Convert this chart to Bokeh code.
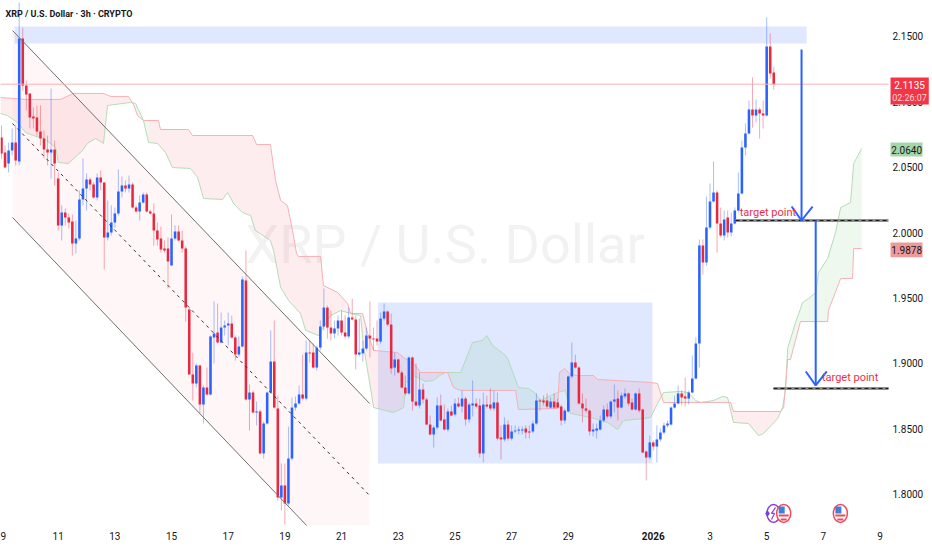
import numpy as np
from bokeh.plotting import figure
from bokeh.models import Range1d, FixedTicker, NumeralTickFormatter, Label, LinearAxis
from bokeh.core.properties import value
from bokeh.embed import file_html
from bokeh.resources import INLINE

TITLE = "XRP / U.S. Dollar · 3h · CRYPTO"
WATERMARK = "XRP / U.S. Dollar"
TARGET_TEXT = "target point"
FONT = "Roboto"

# candles, 3h each, first one opens on the 9th
opens = [2.0727,2.0612,2.0528,2.0628,2.0689,2.0543,2.1484,2.1125,2.1064,2.0888,
2.0880,2.0773,2.0719,2.0635,2.0612,2.0635,2.0413,2.0054,2.0153,2.0115,
2.0084,1.9916,1.9954,2.0253,2.0337,2.0406,2.0367,2.0268,2.0421,2.0383,
1.9962,2.0000,2.0077,2.0146,2.0314,2.0360,2.0337,2.0367,2.0191,2.0161,
2.0230,2.0291,2.0161,2.0146,2.0015,1.9954,1.9878,1.9878,1.9748,1.9954,
2.0008,1.9939,1.9878,1.9411,1.8914,1.8845,1.8983,1.8684,1.8814,1.8761,
1.9197,1.9235,1.9159,1.9273,1.9289,1.9304,1.9197,1.9067,1.9128,1.9633,
1.8723,1.8776,1.8623,1.8631,1.8310,1.8539,1.8776,1.9013,1.8654,1.7973,
1.8065,1.7927,1.8271,1.8661,1.8692,1.8761,1.8730,1.9082,1.9082,1.8967,
1.9120,1.9281,1.9426,1.9273,1.9228,1.9266,1.9327,1.9235,1.9205,1.9350,
1.9335,1.9067,1.9075,1.9113,1.9212,1.9189,1.9189,1.9166,1.9342,1.9396,
1.9296,1.8967,1.9029,1.8929,1.8814,1.8769,1.9044,1.8707,1.8677,1.8799,
1.8723,1.8531,1.8455,1.8508,1.8677,1.8570,1.8493,1.8631,1.8608,1.8692,
1.8669,1.8730,1.8570,1.8677,1.8692,1.8677,1.8310,1.8684,1.8684,1.8654,
1.8700,1.8432,1.8417,1.8531,1.8424,1.8478,1.8485,1.8485,1.8501,1.8478,
1.8478,1.8539,1.8715,1.8715,1.8715,1.8661,1.8707,1.8700,1.8669,1.8562,
1.8631,1.8899,1.9006,1.8967,1.8692,1.8654,1.8638,1.8478,1.8485,1.8493,
1.8562,1.8646,1.8593,1.8707,1.8730,1.8661,1.8746,1.8769,1.8700,1.8646,
1.8769,1.8646,1.8325,1.8279,1.8394,1.8363,1.8417,1.8470,1.8524,1.8531,
1.8661,1.8692,1.8769,1.8746,1.8730,1.8776,1.8883,1.9151,1.9901,1.9771,
2.0038,2.0237,2.0306,2.0069,1.9977,2.0115,2.0000,2.0069,2.0169,2.0299,
2.0650,2.0758,2.0941,2.0895,2.0941,2.0911,2.0895,2.1423,2.1224]
closes = [2.0605,2.0497,2.0628,2.0689,2.0551,2.1484,2.1125,2.1056,2.0880,2.0872,
2.0773,2.0719,2.0635,2.0612,2.0635,2.0528,2.0054,2.0153,2.0115,2.0077,
1.9916,1.9954,2.0253,2.0337,2.0406,2.0367,2.0268,2.0421,2.0383,1.9962,
2.0000,2.0077,2.0146,2.0314,2.0360,2.0337,2.0367,2.0191,2.0161,2.0230,
2.0291,2.0161,2.0146,2.0015,1.9947,1.9870,1.9863,1.9778,1.9954,2.0008,
1.9939,1.9878,1.9426,1.8914,1.8845,1.8983,1.8684,1.8814,1.8761,1.9205,
1.9228,1.9159,1.9273,1.9289,1.9304,1.9197,1.9067,1.9128,1.9641,1.8723,
1.8776,1.8623,1.8631,1.8310,1.8539,1.8776,1.9013,1.8661,1.7973,1.8065,
1.7927,1.8271,1.8661,1.8692,1.8761,1.8730,1.9082,1.9075,1.8967,1.9120,
1.9281,1.9426,1.9273,1.9228,1.9266,1.9327,1.9235,1.9205,1.9350,1.9335,
1.9067,1.9082,1.9113,1.9212,1.9189,1.9182,1.9166,1.9342,1.9396,1.9296,
1.8960,1.9029,1.8929,1.8814,1.8769,1.9044,1.8707,1.8677,1.8799,1.8723,
1.8531,1.8455,1.8508,1.8677,1.8562,1.8493,1.8631,1.8600,1.8692,1.8669,
1.8730,1.8570,1.8684,1.8692,1.8669,1.8310,1.8684,1.8669,1.8654,1.8700,
1.8424,1.8417,1.8531,1.8424,1.8478,1.8485,1.8493,1.8493,1.8470,1.8470,
1.8539,1.8715,1.8707,1.8700,1.8669,1.8707,1.8661,1.8661,1.8562,1.8638,
1.8899,1.9006,1.8967,1.8692,1.8654,1.8638,1.8478,1.8493,1.8501,1.8562,
1.8646,1.8593,1.8707,1.8723,1.8661,1.8753,1.8769,1.8692,1.8646,1.8769,
1.8638,1.8317,1.8279,1.8394,1.8363,1.8417,1.8470,1.8524,1.8539,1.8661,
1.8692,1.8769,1.8738,1.8730,1.8776,1.8883,1.9151,1.9901,1.9771,2.0038,
2.0237,2.0306,2.0069,1.9977,2.0100,2.0000,2.0069,2.0169,2.0299,2.0650,
2.0758,2.0941,2.0895,2.0941,2.0911,2.0895,2.1423,2.1217,2.1135]
highs = [2.0819,2.0666,2.0689,2.0796,2.0819,2.1760,2.1568,2.1163,2.1064,2.0956,
2.0972,2.0972,2.0781,2.0742,2.1102,2.0704,2.0459,2.0207,2.0184,2.0146,
2.0138,2.0092,2.0322,2.0566,2.0452,2.0421,2.0383,2.0452,2.0475,2.0383,
2.0245,2.0207,2.0191,2.0482,2.0429,2.0398,2.0436,2.0383,2.0207,2.0283,
2.0306,2.0306,2.0176,2.0222,2.0077,2.0046,1.9939,1.9962,2.0138,2.0054,
2.0054,2.0015,1.9893,1.9426,1.9082,1.8998,1.8990,1.8830,1.8967,1.9212,
1.9472,1.9457,1.9388,1.9327,1.9388,1.9365,1.9212,1.9205,1.9664,1.9863,
1.8837,1.8792,1.8707,1.8646,1.8554,1.8784,1.9251,1.9327,1.8753,1.8233,
1.8233,1.8516,1.8738,1.8746,1.8830,1.9067,1.9174,1.9174,1.9151,1.9136,
1.9327,1.9572,1.9442,1.9404,1.9327,1.9365,1.9404,1.9365,1.9426,1.9495,
1.9365,1.9342,1.9174,1.9273,1.9472,1.9273,1.9327,1.9388,1.9457,1.9404,
1.9381,1.9082,1.9036,1.8944,1.8906,1.9052,1.9052,1.8998,1.8929,1.8845,
1.8738,1.8600,1.8524,1.8738,1.8761,1.8684,1.8654,1.8677,1.8730,1.8738,
1.8792,1.8746,1.8700,1.8868,1.8730,1.8730,1.8776,1.8753,1.8807,1.8792,
1.8776,1.8524,1.8585,1.8562,1.8524,1.8524,1.8516,1.8516,1.8524,1.8524,
1.8562,1.8769,1.8730,1.8753,1.8769,1.8738,1.8769,1.8730,1.8684,1.8654,
1.8906,1.9159,1.9067,1.8975,1.8769,1.8730,1.8646,1.8539,1.8539,1.8600,
1.8677,1.8692,1.8715,1.8837,1.8792,1.8776,1.8807,1.8776,1.8730,1.8776,
1.8807,1.8654,1.8333,1.8447,1.8409,1.8524,1.8501,1.8547,1.8562,1.8669,
1.8753,1.8830,1.8792,1.8891,1.8792,1.9059,1.9197,1.9947,1.9947,2.0276,
2.0375,2.0543,2.0322,2.0191,2.0169,2.0169,2.0153,2.0191,2.0459,2.0704,
2.0834,2.1010,2.1186,2.1018,2.0956,2.1010,2.1645,2.1523,2.1270]
lows = [2.0566,2.0497,2.0459,2.0589,2.0513,2.0513,2.1087,2.0934,2.0796,2.0796,
2.0742,2.0666,2.0566,2.0513,2.0413,2.0360,2.0015,1.9939,2.0054,2.0031,
1.9824,1.9840,1.9939,2.0207,2.0169,2.0322,2.0260,2.0245,2.0322,1.9717,
1.9939,1.9977,2.0038,2.0130,2.0268,2.0306,2.0306,2.0184,2.0153,2.0092,
2.0222,2.0153,2.0138,1.9901,1.9901,1.9847,1.9847,1.9572,1.9748,1.9939,
1.9931,1.9847,1.9319,1.8914,1.8715,1.8814,1.8615,1.8539,1.8753,1.8753,
1.8998,1.9151,1.9151,1.9212,1.9136,1.9189,1.9021,1.9052,1.9120,1.8715,
1.8485,1.8615,1.8524,1.8302,1.8271,1.8531,1.8769,1.8654,1.7950,1.7873,
1.7766,1.7912,1.8256,1.8638,1.8684,1.8715,1.8715,1.9006,1.8960,1.8944,
1.9098,1.9251,1.9189,1.9174,1.9189,1.9212,1.9212,1.9189,1.9189,1.9327,
1.8952,1.9052,1.9013,1.9098,1.9044,1.9098,1.9136,1.9151,1.9327,1.9281,
1.8921,1.8906,1.8921,1.8807,1.8753,1.8761,1.8638,1.8669,1.8654,1.8692,
1.8524,1.8447,1.8355,1.8493,1.8554,1.8485,1.8478,1.8593,1.8593,1.8661,
1.8623,1.8524,1.8547,1.8593,1.8654,1.8279,1.8241,1.8654,1.8638,1.8638,
1.8409,1.8264,1.8401,1.8409,1.8409,1.8463,1.8455,1.8455,1.8424,1.8424,
1.8463,1.8531,1.8638,1.8677,1.8654,1.8654,1.8654,1.8654,1.8524,1.8539,
1.8623,1.8883,1.8960,1.8684,1.8547,1.8623,1.8447,1.8440,1.8424,1.8485,
1.8547,1.8577,1.8577,1.8623,1.8562,1.8654,1.8730,1.8677,1.8638,1.8638,
1.8623,1.8310,1.8103,1.8264,1.8333,1.8241,1.8401,1.8455,1.8508,1.8524,
1.8654,1.8684,1.8677,1.8669,1.8684,1.8769,1.8876,1.8967,1.9679,1.9748,
2.0023,2.0230,1.9847,1.9962,1.9939,1.9962,1.9970,2.0061,2.0153,2.0291,
2.0589,2.0750,2.0803,2.0842,2.0719,2.0796,2.0888,2.1178,2.1094]

# ichimoku cloud edges (day offset from the 9th, price)
span_a_days = [-0.04,0.21,0.56,0.85,1.13,1.48,1.73,1.91,2.01,2.36,2.86,3.03,3.32,3.60,3.74,4.55,4.73,5.01,5.19,5.51,5.79,6.03,6.67,6.92,7.13,7.80,7.98,8.19,8.50,8.79,8.96,9.49,9.60,9.85,10.13,10.55,10.73,11.19,11.61,11.96,12.32,12.67,12.77,13.02,13.13,13.83,14.19,14.26,14.54,14.96,15.25,15.46,15.67,16.20,16.62,16.97,17.12,17.33,17.79,17.89,18.24,18.60,18.84,19.02,19.62,19.90,20.08,20.79,21.39,21.74,21.95,22.66,22.90,23.15,23.36,23.96,24.24,24.49,24.67,25.13,25.44,25.62,25.83,26.36,26.71,26.89,27.39,27.56,27.67,27.74,28.02,28.27,28.48,28.73,28.83,29.15,29.43,29.61,29.96,30.07,30.35]
span_a = [2.0911,2.0895,2.0842,2.0765,2.0742,2.0719,2.0681,2.0650,2.0536,2.0528,2.0628,2.0681,2.0719,2.0681,2.0972,2.0995,2.0987,2.0857,2.0689,2.0681,2.0612,2.0497,2.0490,2.0421,2.0260,2.0253,2.0306,2.0222,2.0153,2.0130,2.0015,1.9939,1.9863,1.9579,1.9480,1.9381,1.9251,1.9212,1.9365,1.9403,1.9381,1.9365,1.9136,1.8814,1.8661,1.8623,1.8661,1.8845,1.8906,1.8860,1.8868,1.8906,1.8929,1.8929,1.9159,1.9174,1.9212,1.9136,1.9059,1.9021,1.8814,1.8807,1.8768,1.8715,1.8776,1.8792,1.8616,1.8585,1.8547,1.8493,1.8562,1.8577,1.8585,1.8692,1.8776,1.8784,1.8776,1.8715,1.8700,1.8715,1.8746,1.8738,1.8547,1.8539,1.8447,1.8463,1.8577,1.8661,1.8807,1.9113,1.9312,1.9465,1.9495,1.9541,1.9694,1.9801,2.0000,2.0191,2.0230,2.0528,2.0643]
span_b_days = [-0.04,0.85,2.08,2.54,3.60,3.85,4.48,4.66,4.80,5.01,5.54,5.61,6.60,6.74,8.86,9.00,9.49,9.67,9.85,10.09,10.27,10.41,10.48,11.26,11.36,11.86,12.21,12.32,12.74,12.92,13.13,13.97,14.19,14.61,14.79,15.74,15.95,16.20,18.14,18.24,19.62,19.69,19.87,20.08,20.33,20.89,21.03,22.90,23.15,23.36,25.73,25.83,27.49,27.60,27.74,27.84,28.19,29.15,29.18,29.61,30.03,30.07,30.35]
span_b = [2.1033,2.1018,2.1018,2.1064,2.1064,2.1041,2.1041,2.0979,2.0895,2.0857,2.0857,2.0788,2.0788,2.0742,2.0742,2.0673,2.0673,2.0398,2.0245,2.0207,2.0015,1.9840,1.9817,1.9817,1.9595,1.9541,1.9457,1.9381,1.9381,1.9228,1.9098,1.9082,1.9044,1.8983,1.8929,1.8929,1.8814,1.8792,1.8792,1.8646,1.8654,1.8929,1.8960,1.8914,1.8906,1.8906,1.8876,1.8853,1.8845,1.8700,1.8700,1.8631,1.8631,1.8661,1.9029,1.9029,1.9319,1.9319,1.9404,1.9648,1.9648,1.9878,1.9878]

# drawn channel (day, price at both ends)
channel_days = [0.39, 12.99]
channel_upper = [2.1545, 1.8692]
channel_middle = [2.0834, 1.7988]
channel_lower = [2.0115, 1.7254]
# drawn zones
resistance_days = [0.46, 28.41]
resistance_prices = [2.1446, 2.1576]
range_days = [13.28, 22.97]
range_prices = [1.8233, 1.9465]
last_price = 2.1135
# targets
target1 = dict(days=[25.90, 31.35], price=2.0092)
target2 = dict(days=[27.24, 31.35], price=1.8807)
arrow1 = dict(day=28.23, top=2.1400, tip=2.0092, wing_days=[27.88, 28.62], wing=2.0199)
arrow2 = dict(day=28.73, top=2.0092, tip=1.8830, wing_days=[28.38, 29.12], wing=1.8937)
tick_days = [0,2,4,6,8,10,12,14,16,18,20,23,25,27,29,31]
tick_text = ["9","11","13","15","17","19","21","23","25","27","29","","3","5","7","9"]
price_ticks = [1.80,1.85,1.90,1.95,2.00,2.05,2.10,2.15]
event_days = [27.24, 27.60, 29.60]
event_level = 1.7851

PXD = 28.34
PXP = 1307.2
p = figure(width=932, height=550, output_backend="svg", toolbar_location=None,
           x_range=Range1d(-1/PXD, 887/PXD), y_range=Range1d(2.1775-525/PXP, 2.1775),
           min_border_left=0, min_border_top=0, min_border_right=44, min_border_bottom=25,
           outline_line_color=None, background_fill_color="white", border_fill_color="white")
p.grid.visible = False
p.xaxis.ticker = FixedTicker(ticks=tick_days)
p.xaxis.major_label_overrides = {d: t for d, t in zip(tick_days, tick_text)}
p.yaxis.visible = False
ya = LinearAxis(ticker=FixedTicker(ticks=price_ticks), formatter=NumeralTickFormatter(format="0.0000"))
p.add_layout(ya, "right")
for ax in (p.xaxis[0], ya):
    ax.axis_line_color = None
    ax.major_tick_line_color = None
    ax.minor_tick_line_color = None
    ax.major_tick_out = 0
    ax.major_tick_in = 0
    ax.minor_tick_out = 0
    ax.minor_tick_in = 0
    ax.major_label_text_font = FONT
    ax.major_label_text_font_size = "10px"
    ax.major_label_text_color = "#131722"
ya.major_label_standoff = 4
p.xaxis[0].major_label_standoff = 6

# watermark
p.text(x=[15.65], y=[1.9905], text=[WATERMARK], text_font=value(FONT),
       text_font_size="54px", text_color="#131722", text_alpha=0.055,
       text_align="center", text_baseline="middle", level="underlay")

# zones
cd = np.array(channel_days)
p.varea(x=cd, y1=channel_upper, y2=channel_lower, fill_color="#f23645", fill_alpha=0.045)
p.quad(left=[resistance_days[0]], right=[resistance_days[1]], bottom=[resistance_prices[0]], top=[resistance_prices[1]],
       fill_color="#2962ff", fill_alpha=0.15, line_color=None)
p.quad(left=[range_days[0]], right=[range_days[1]], bottom=[range_prices[0]], top=[range_prices[1]],
       fill_color="#2962ff", fill_alpha=0.15, line_color=None)

# cloud
xs = np.union1d(span_a_days, span_b_days)
a = np.interp(xs, span_a_days, span_a)
b = np.interp(xs, span_b_days, span_b)
up = a >= b
start = 0
for i in range(1, len(xs) + 1):
    if i == len(xs) or up[i] != up[start]:
        end = min(i + 1, len(xs))
        p.varea(x=xs[start:end], y1=a[start:end], y2=b[start:end],
                fill_color="#4caf50" if up[start] else "#f23645", fill_alpha=0.09)
        start = i
p.line(span_a_days, span_a, line_color="#b4dcb6", line_width=1)
p.line(span_b_days, span_b, line_color="#f7b0b5", line_width=1)

# candles
n = len(opens)
days = np.arange(n) / 8
o, c, h, l = map(np.array, (opens, closes, highs, lows))
colors = np.where(c >= o, "#2962ff", "#e8283f")
p.segment(days, h, days, l, line_color=list(colors), line_alpha=0.4, line_width=1)
p.vbar(x=days, width=0.09, top=np.maximum(o, c), bottom=np.minimum(o, c),
       fill_color=list(colors), line_color=None)

# channel lines
p.line(cd, channel_upper, line_color="#6f6f6f", line_width=1)
p.line(cd, channel_lower, line_color="#6f6f6f", line_width=1)
p.line(cd, channel_middle, line_color="#333333", line_width=1, line_dash="3 4")

# last price line
p.line([-1, 40], [last_price, last_price], line_color="#f6b2b7", line_width=1)

# targets
for t in (target1, target2):
    p.line(t["days"], [t["price"]]*2, line_color="#8f8f8f", line_width=3)
    p.line(t["days"], [t["price"]]*2, line_color="#1a1a1a", line_width=1, line_dash="4 3")
for ar in (arrow1, arrow2):
    p.line([ar["day"], ar["day"]], [ar["top"], ar["tip"]], line_color="#2962ff", line_width=2)
    p.line([ar["wing_days"][0], ar["day"], ar["wing_days"][1]], [ar["wing"], ar["tip"], ar["wing"]], line_color="#2962ff", line_width=2)

def lab(fig, text, d, price, color, size, style="normal", align="left"):
    fig.add_layout(Label(x=d, y=price, text=text, text_color=color, text_font=FONT,
                         text_font_size=size, text_font_style=style, text_align=align, text_baseline="middle"))

lab(p, TARGET_TEXT, 26.05, 2.0152, "#e8304a", "11px")
lab(p, TARGET_TEXT, 28.95, 1.8892, "#e8304a", "11px")
lab(p, TITLE, 0.14, 2.1668, "#131722", "9px", "bold")

# event icons
evx = event_days
p.ellipse(x=[evx[0]], y=[event_level], width=13, height=18, width_units="screen", height_units="screen",
          fill_color=None, line_color="#8e3fd6", line_width=1.5)
p.scatter(x=[evx[0]-6/PXD], y=[event_level], marker="diamond", size=7, fill_color="#7a3fe0", line_color=None)
p.line([evx[0]+2/PXD, evx[0]-2/PXD, evx[0]+1/PXD, evx[0]-2/PXD], [event_level+6/PXP, event_level, event_level, event_level-6/PXP],
       line_color="#8e3fd6", line_width=1.2)
for ex in evx[1:]:
    p.ellipse(x=[ex], y=[event_level], width=14, height=18, width_units="screen", height_units="screen",
              fill_color="white", line_color="#f0485c", line_width=1.5)
    p.quad(left=[ex-5/PXD], right=[ex+1/PXD], bottom=[event_level+0/PXP], top=[event_level+7/PXP], fill_color="#3f7fd8", line_color=None)
    p.quad(left=[ex-5/PXD], right=[ex+5/PXD], bottom=[event_level-3/PXP], top=[event_level-1/PXP], fill_color="#f0485c", line_color=None)
    p.quad(left=[ex-3/PXD], right=[ex+3/PXD], bottom=[event_level-7/PXP], top=[event_level-5/PXP], fill_color="#f0485c", line_color=None)

# transparent layer over the whole page, for the scale tags and the bold year
q = figure(width=932, height=550, output_backend="svg", toolbar_location=None,
           x_range=Range1d(-1/PXD, 931/PXD), y_range=Range1d(2.1775-550/PXP, 2.1775),
           min_border=0, outline_line_color=None, background_fill_alpha=0, border_fill_alpha=0)
q.axis.visible = False
q.grid.visible = False
q.styles = {"position": "absolute", "left": "0px", "top": "0px"}
def tag(d0, d1, top, bottom, color):
    q.quad(left=[d0], right=[d1], top=[top], bottom=[bottom], fill_color=color, line_color=None)
tag(31.37, 32.72, 2.1186, 2.0980, "#f23645")
lab(q, "2.1135", 32.04, 2.1128, "#ffffff", "10px", align="center")
lab(q, "02:26:07", 32.04, 2.1030, "#ffd5d8", "9px", align="center")
tag(31.37, 32.50, 2.0689, 2.0581, "#a5d6a7")
lab(q, "2.0640", 31.94, 2.0635, "#131722", "10px", align="center")
tag(31.37, 32.50, 1.9924, 1.9810, "#ef9a9a")
lab(q, "1.9878", 31.94, 1.9867, "#131722", "10px", align="center")
lab(q, "2026", 23.0, 1.7675, "#131722", "10px", "bold", "center")

open("out.html", "w").write(file_html((p, q), INLINE))
